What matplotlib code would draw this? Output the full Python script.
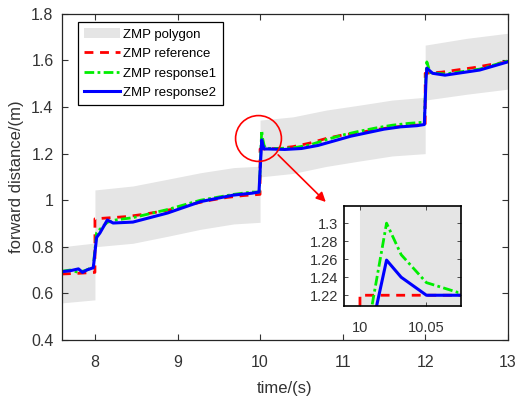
import matplotlib
matplotlib.use("Agg")
import matplotlib.pyplot as plt

plt.rcParams["font.family"] = ["Liberation Sans", "DejaVu Sans"]

# * - - - ZMP polygon (support region), one piece per step
poly_x1 = [7.6, 8.0]
poly_lo1 = [0.559, 0.572]
poly_hi1 = [0.800, 0.816]
poly_x2 = [8.0, 8.46, 8.88, 9.28, 9.68, 10.0]
poly_lo2 = [0.800, 0.815, 0.845, 0.875, 0.898, 0.905]
poly_hi2 = [1.044, 1.061, 1.090, 1.118, 1.140, 1.146]
poly_x3 = [10.0, 10.4, 10.8, 11.2, 11.6, 12.0]
poly_lo3 = [1.100, 1.115, 1.145, 1.168, 1.190, 1.200]
poly_hi3 = [1.344, 1.358, 1.387, 1.408, 1.430, 1.442]
poly_x4 = [12.0, 12.5, 13.0]
poly_lo4 = [1.430, 1.455, 1.477]
poly_hi4 = [1.666, 1.695, 1.717]

# * - - - ZMP reference
ref_t = [7.6, 7.8, 8.0, 8.0, 8.2, 8.4, 8.6, 8.8, 9.0, 9.2, 9.4, 9.6, 9.8, 10.0,
         10.0, 10.075, 10.2, 10.4, 10.6, 10.8, 11.0, 11.2, 11.4, 11.6, 11.8, 12.0,
         12.0, 12.2, 12.4, 12.6, 12.8, 13.0]
ref_y = [0.683, 0.686, 0.690, 0.920, 0.925, 0.930, 0.940, 0.952, 0.965, 0.985, 1.000, 1.012, 1.020, 1.025,
         1.220, 1.220, 1.222, 1.230, 1.245, 1.265, 1.280, 1.290, 1.303, 1.313, 1.320, 1.325,
         1.545, 1.550, 1.560, 1.570, 1.583, 1.594]

# * - - - ZMP response1
r1_t = [7.6, 7.7, 7.8, 7.9, 7.98, 8.02, 8.06, 8.15, 8.25, 8.46, 8.88, 9.28, 9.68, 9.9, 9.99,
        10.009, 10.02, 10.031, 10.05, 10.074, 10.2, 10.4, 10.6, 10.8, 11.0, 11.2, 11.4, 11.6, 11.8, 11.99,
        12.01, 12.02, 12.06, 12.24, 12.66, 13.0]
r1_y = [0.695, 0.700, 0.690, 0.700, 0.715, 0.860, 0.875, 0.905, 0.915, 0.925, 0.960, 1.000, 1.025, 1.035, 1.035,
        1.208, 1.300, 1.265, 1.234, 1.223, 1.222, 1.225, 1.237, 1.260, 1.280, 1.296, 1.310, 1.322, 1.330, 1.335,
        1.540, 1.594, 1.548, 1.542, 1.563, 1.598]

# * - - - ZMP response2
r2_t = [7.6, 7.7, 7.8, 7.85, 7.9, 7.98, 8.02, 8.06, 8.15, 8.22, 8.46, 8.88, 9.28, 9.68, 9.9, 9.987,
        10.0125, 10.02, 10.031, 10.05, 10.1, 10.3, 10.5, 10.7, 10.9, 11.1, 11.3, 11.5, 11.7, 11.9, 11.99,
        12.01, 12.02, 12.09, 12.24, 12.66, 13.0]
r2_y = [0.693, 0.697, 0.705, 0.690, 0.700, 0.710, 0.840, 0.859, 0.915, 0.902, 0.906, 0.945, 0.994, 1.022, 1.030, 1.035,
        1.208, 1.259, 1.240, 1.220, 1.220, 1.218, 1.222, 1.235, 1.255, 1.275, 1.290, 1.305, 1.315, 1.320, 1.325,
        1.520, 1.567, 1.545, 1.537, 1.559, 1.594]

# * - - - Tick labels
x_ticks = [8, 9, 10, 11, 12, 13]
x_labels = ["8", "9", "10", "11", "12", "13"]
y_ticks = [0.4, 0.6, 0.8, 1.0, 1.2, 1.4, 1.6, 1.8]
y_labels = ["0.4", "0.6", "0.8", "1", "1.2", "1.4", "1.6", "1.8"]
in_x_ticks = [10.0, 10.05]
in_x_labels = ["10", "10.05"]
in_y_ticks = [1.22, 1.24, 1.26, 1.28, 1.30]
in_y_labels = ["1.22", "1.24", "1.26", "1.28", "1.3"]

GRAY = "#e5e5e5"
TXT = "#333333"


def draw_all(ax, with_labels):
    pieces = [(poly_x1, poly_lo1, poly_hi1), (poly_x2, poly_lo2, poly_hi2),
              (poly_x3, poly_lo3, poly_hi3), (poly_x4, poly_lo4, poly_hi4)]
    for i, (px, lo, hi) in enumerate(pieces):
        ax.fill_between(px, lo, hi, color=GRAY, lw=0,
                        label="ZMP polygon" if (with_labels and i == 0) else None)
    ax.plot(ref_t, ref_y, color="red", lw=2, ls=(0, (3.2, 2.4)),
            label="ZMP reference" if with_labels else None)
    ax.plot(r1_t, r1_y, color="#00ee00", lw=2, ls=(0, (3.5, 1.2, 1.0, 1.2)),
            label="ZMP response1" if with_labels else None)
    ax.plot(r2_t, r2_y, color="#0000ff", lw=2.2,
            label="ZMP response2" if with_labels else None)


fig = plt.figure(figsize=(5.16, 3.98), dpi=100)
ax = fig.add_axes([0.120, 0.146, 0.864, 0.819])
draw_all(ax, True)

ax.set_xlim(7.6, 13)
ax.set_ylim(0.4, 1.8)
ax.set_xticks(x_ticks)
ax.set_xticklabels(x_labels)
ax.set_yticks(y_ticks)
ax.set_yticklabels(y_labels)
ax.tick_params(direction="in", top=True, right=True, length=4, width=0.8,
               labelsize=11.5, colors=TXT, pad=6)
ax.tick_params(axis="x", pad=11)
ax.set_xlabel("time/(s)", fontsize=12, color=TXT, labelpad=8)
ax.set_ylabel("forward distance/(m)", fontsize=12, color=TXT, labelpad=5)
for s in ax.spines.values():
    s.set_color("#262626")
    s.set_linewidth(0.9)

leg = ax.legend(loc="upper left", bbox_to_anchor=(0.036, 0.974), borderaxespad=0,
                fontsize=9.5, handlelength=2.7, labelspacing=0.55, fancybox=False,
                framealpha=1, edgecolor="black", borderpad=0.45, handletextpad=0.3)
leg.get_frame().set_linewidth(0.9)

# * - - - Red circle and arrow pointing to the zoomed view
ax.plot([9.97], [1.267], "o", ms=33, mfc="none", mec="red", mew=1.2)
ax.annotate("", xy=(10.82, 0.984), xytext=(10.195, 1.203),
            arrowprops=dict(arrowstyle="-|>", color="red", lw=1.2, mutation_scale=14))

# * - - - Inset zoom
axi = fig.add_axes([0.6667, 0.231, 0.2267, 0.2513])
draw_all(axi, False)
axi.set_xlim(9.988, 10.076)
axi.set_ylim(1.208, 1.319)
axi.set_xticks(in_x_ticks)
axi.set_xticklabels(in_x_labels)
axi.set_yticks(in_y_ticks)
axi.set_yticklabels(in_y_labels)
axi.tick_params(direction="in", top=True, right=True, length=3, width=0.6,
                labelsize=10.5, colors=TXT, pad=4)
axi.tick_params(axis="x", pad=11)
for s in axi.spines.values():
    s.set_color("black")
    s.set_linewidth(1.2)

fig.savefig("out.png", dpi=100)
